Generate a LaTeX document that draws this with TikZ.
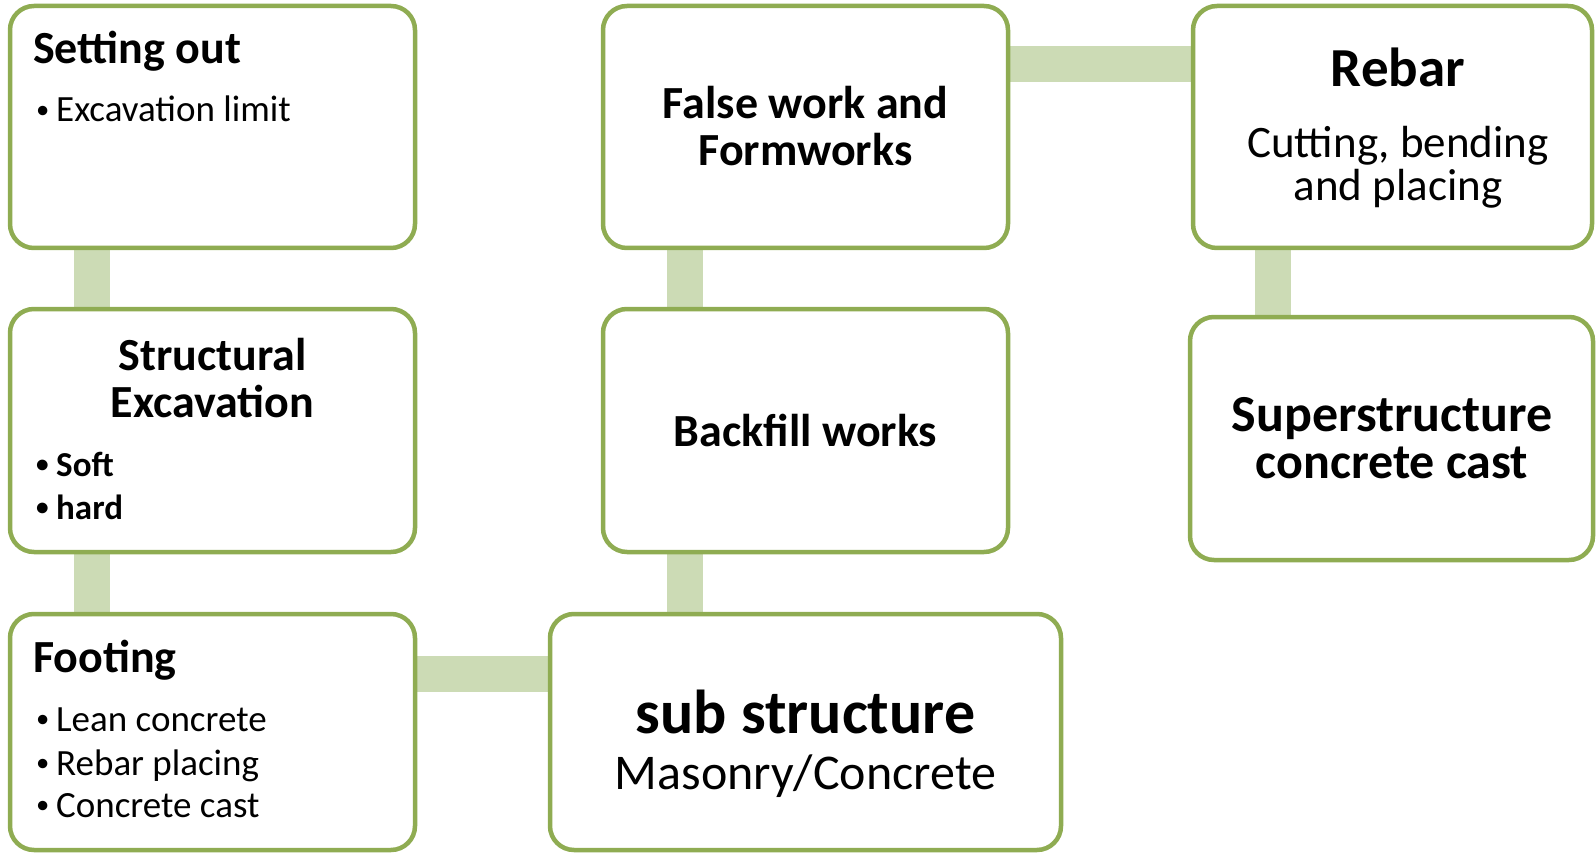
\documentclass[tikz,border=0pt]{standalone}
\usepackage{fontspec}
\setmainfont{Carlito}
\usetikzlibrary{calc}
\pgfdeclarelayer{bg}
\pgfsetlayers{bg,main}
\definecolor{boxline}{RGB}{143,172,82}
\definecolor{connfill}{RGB}{204,219,181}
\tikzset{
  box/.style={draw=boxline, line width=4.5pt, fill=white, rounded corners=24pt,
    inner sep=0pt, outer sep=0pt, rectangle},
  conn/.style={draw=connfill, line width=36pt},
  ttl/.style={inner sep=0pt, font=\bfseries\fontsize{46}{50}\selectfont},
  bul/.style={inner sep=0pt, anchor=base west, font=\fontsize{37}{40}\selectfont},
  bulb/.style={inner sep=0pt, anchor=base west, font=\bfseries\fontsize{35}{40}\selectfont}
}
\newcommand{\bl}{\makebox[21pt][l]{\hspace{1pt}\raisebox{0.09em}{\scalebox{0.72}{•}}}}
\begin{document}
\begin{tikzpicture}[x=1pt,y=-1pt]
\useasboundingbox (0,0) rectangle (1596,853);
% boxes
\node[box, minimum width=405pt, minimum height=242pt] (b1) at (212.5,127) {};
\node[box, minimum width=405pt, minimum height=243pt] (b2) at (212.5,430.5) {};
\node[box, minimum width=405pt, minimum height=236pt] (b3) at (212.5,732) {};
\node[box, minimum width=405pt, minimum height=242pt] (fw) at (805.5,127) {};
\node[box, minimum width=405pt, minimum height=243pt] (bf) at (805.5,430.5) {};
\node[box, minimum width=511pt, minimum height=236pt] (ss) at (805.5,732) {};
\node[box, minimum width=399pt, minimum height=242pt] (rb) at (1392.5,127) {};
\node[box, minimum width=403pt, minimum height=243pt] (sp) at (1391.5,438.5) {};
% connectors
\begin{pgfonlayer}{bg}
\draw[conn] ($(b1.south west)+(82,0)$) -- ($(b2.north west)+(82,0)$);
\draw[conn] ($(b2.south west)+(82,0)$) -- ($(b3.north west)+(82,0)$);
\draw[conn] ($(fw.south west)+(82,0)$) -- ($(bf.north west)+(82,0)$);
\draw[conn] ($(bf.south west)+(82,0)$) -- ($(ss.north west)+(135,0)$);
\draw[conn] ($(b3.north east)+(0,60)$) -- ($(ss.north west)+(0,60)$);
\draw[conn] ($(fw.north east)+(0,58)$) -- ($(rb.north west)+(0,58)$);
\draw[conn] ($(rb.south west)+(80,0)$) -- ($(sp.north west)+(83,0)$);
\end{pgfonlayer}
% texts
\node[ttl, anchor=base west] (t1) at (33,64) {Setting out};
\node[bul] (t1a) at (35,122) {\bl Excavation limit};
\node[ttl, anchor=base] (t2) at (212.5,370) {Structural};
\node[ttl, anchor=base] (t2b) at (212.5,417) {Excavation};
\node[bulb] (t2c) at (35,476) {\bl Soft};
\node[bulb] (t2d) at (35,519) {\bl hard};
\node[ttl, anchor=base west] (t3) at (33,672) {Footing};
\node[bul] (t3a) at (35,731) {\bl Lean concrete};
\node[bul] (t3b) at (35,775) {\bl Rebar placing};
\node[bul] (t3c) at (35,817) {\bl Concrete cast};
\node[ttl, anchor=base] (t4) at (805.5,119) {False work and};
\node[ttl, anchor=base] (t4b) at (805.5,166) {Formworks};
\node[ttl, anchor=base] (t5) at (805.5,446) {Backfill works};
\node[inner sep=0pt, anchor=base, font=\bfseries\fontsize{62}{66}\selectfont] (t6) at (805.5,733) {sub structure};
\node[inner sep=0pt, anchor=base, font=\fontsize{50}{54}\selectfont] (t6b) at (805.5,789) {Masonry/Concrete};
\node[inner sep=0pt, anchor=base, font=\bfseries\fontsize{55}{60}\selectfont] (t7) at (1398,87) {Rebar};
\node[inner sep=0pt, anchor=base, font=\fontsize{45}{48}\selectfont] (t7b) at (1398,158) {Cutting, bending};
\node[inner sep=0pt, anchor=base, font=\fontsize{45}{48}\selectfont] (t7c) at (1398,201) {and placing};
\node[inner sep=0pt, anchor=base, font=\bfseries\fontsize{52}{54}\selectfont] (t8) at (1392,431) {Superstructure};
\node[inner sep=0pt, anchor=base, font=\bfseries\fontsize{50}{54}\selectfont] (t8b) at (1392,478) {concrete cast};
\end{tikzpicture}
\end{document}
